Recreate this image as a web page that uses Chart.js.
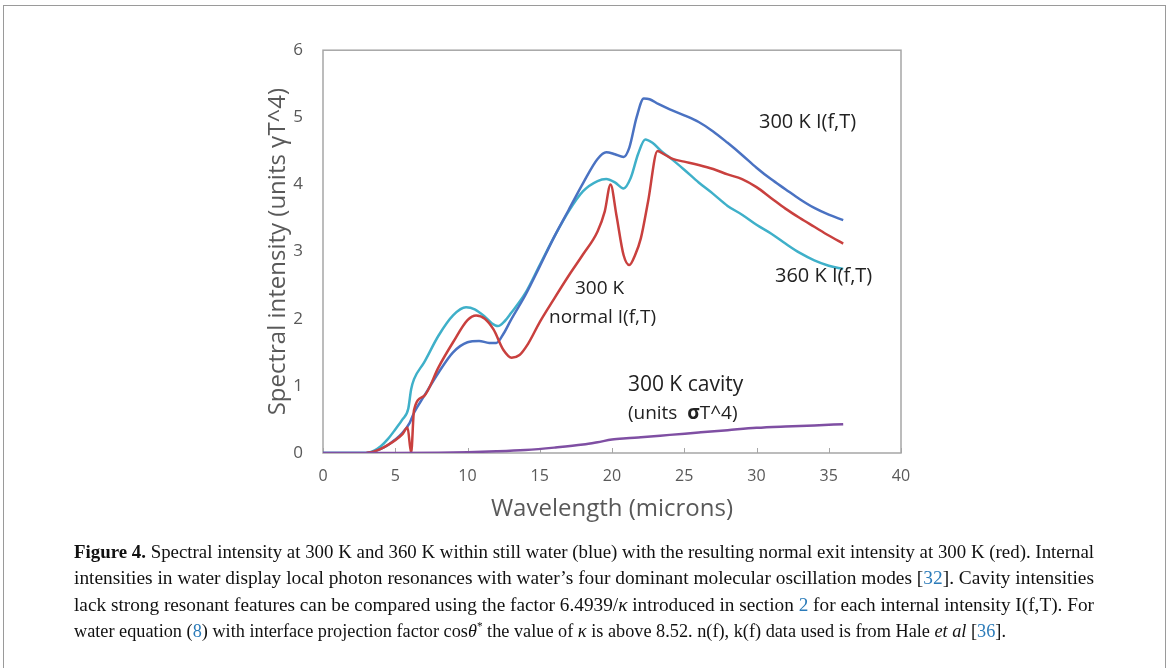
<!DOCTYPE html>
<html>
<head>
<meta charset="utf-8">
<script src="https://cdn.jsdelivr.net/npm/chart.js@4.4.0/dist/chart.umd.min.js"></script>
<style>
  html, body { margin: 0; padding: 0; background: #fff; }
  body { width: 1170px; height: 668px; position: relative; overflow: hidden; }
  #frame { position: absolute; left: 3px; top: 5px; width: 1163px; height: 700px; border: 1px solid #9a9a9a; box-sizing: border-box; }
  #plot { position: absolute; left: 200px; top: 20px; }
  #caption { position: absolute; left: 74px; top: 539px; font-family: 'Liberation Serif', serif; font-size: 19.5px; line-height: 26.3px; color: #111; }
  #caption .ln { display: block; white-space: nowrap; height: 26.3px; }
  #caption .t { display: inline-block; transform-origin: 0 0; }
  .ref { color: #2b7bb9; }
</style>
</head>
<body>
<div id="frame"></div>
<canvas id="plot" width="740" height="520"></canvas>
<div id="caption">
  <div class="ln"><span class="t" data-w="1020"><b>Figure 4.</b> Spectral intensity at 300 K and 360 K within still water (blue) with the resulting normal exit intensity at 300 K (red). Internal</span></div>
  <div class="ln"><span class="t" data-w="1020">intensities in water display local photon resonances with water’s four dominant molecular oscillation modes [<span class="ref">32</span>]. Cavity intensities</span></div>
  <div class="ln"><span class="t" data-w="1020">lack strong resonant features can be compared using the factor 6.4939/<i>κ</i> introduced in section <span class="ref">2</span> for each internal intensity I(f,T). For</span></div>
  <div class="ln"><span class="t" data-w="932">water equation (<span class="ref">8</span>) with interface projection factor cos<i>θ</i><sup style="font-size:12px;line-height:0">*</sup> the value of <i>κ</i> is above 8.52. n(f), k(f) data used is from Hale <i>et al</i> [<span class="ref">36</span>].</span></div>
</div>
<script>
// wavelength (microns) and spectral intensity for each curve
const wl300 = [0, 3, 3.5, 4, 4.5, 5, 5.5, 6, 6.3, 7, 8, 9, 10, 10.8, 11.5, 12, 12.5, 13, 14, 15, 16, 17, 18, 19, 19.6, 20.2, 20.8, 21.2, 21.7, 22.2, 22.6, 23.2, 24, 25, 26, 27, 28, 29, 30, 31, 32, 33, 34, 35, 36];
const int300 = [0, 0, 0.02, 0.06, 0.12, 0.2, 0.3, 0.45, 0.6, 0.85, 1.2, 1.5, 1.65, 1.67, 1.64, 1.64, 1.78, 1.98, 2.35, 2.78, 3.22, 3.62, 4.02, 4.38, 4.48, 4.45, 4.41, 4.55, 5.0, 5.28, 5.27, 5.2, 5.12, 5.03, 4.93, 4.79, 4.62, 4.44, 4.25, 4.08, 3.93, 3.78, 3.65, 3.55, 3.47];

const wl360 = [0, 3, 3.5, 4, 4.5, 5, 5.5, 5.9, 6.1, 6.3, 7, 8, 9, 9.9, 10.5, 11.2, 11.7, 12.1, 12.6, 13, 14, 15, 16, 17, 18, 19, 19.6, 20.2, 20.8, 21.3, 21.8, 22.3, 22.8, 23.5, 24, 25, 26, 27, 28, 29, 30, 31, 32, 33, 34, 35, 36];
const int360 = [0, 0, 0.03, 0.1, 0.21, 0.35, 0.5, 0.66, 0.95, 1.1, 1.35, 1.75, 2.05, 2.17, 2.14, 2.03, 1.93, 1.89, 1.97, 2.08, 2.38, 2.8, 3.22, 3.6, 3.9, 4.05, 4.08, 4.03, 3.94, 4.1, 4.45, 4.67, 4.62, 4.48, 4.4, 4.22, 4.03, 3.86, 3.68, 3.55, 3.4, 3.27, 3.12, 2.98, 2.87, 2.79, 2.74];

const wlNormal = [3, 3.5, 4, 4.5, 5, 5.5, 5.85, 6.1, 6.3, 7, 8, 9, 10, 10.6, 11.2, 11.8, 12.5, 13.05, 13.6, 14.2, 15, 16, 17, 18, 19, 19.5, 19.9, 20.3, 20.8, 21.2, 21.6, 22, 22.5, 23.15, 23.6, 24.2, 25, 26, 27, 28, 29, 30, 31, 32, 33, 34, 35, 36];
const intNormal = [0, 0.02, 0.06, 0.12, 0.19, 0.28, 0.38, 0, 0.64, 0.85, 1.28, 1.65, 1.98, 2.05, 2.0, 1.84, 1.53, 1.42, 1.46, 1.63, 1.95, 2.3, 2.64, 2.96, 3.3, 3.6, 4.0, 3.55, 2.95, 2.8, 2.95, 3.2, 3.75, 4.5, 4.45, 4.38, 4.34, 4.29, 4.23, 4.15, 4.08, 3.96, 3.8, 3.64, 3.5, 3.37, 3.24, 3.12];

const wlCavity = [0, 5, 8, 10, 12, 14, 16, 18, 19, 20, 21, 22, 24, 26, 28, 30, 32, 34, 36];
const intCavity = [0, 0, 0.005, 0.012, 0.025, 0.045, 0.08, 0.125, 0.16, 0.2, 0.22, 0.235, 0.27, 0.305, 0.34, 0.375, 0.395, 0.41, 0.43];

const xTicks = [0, 5, 10, 15, 20, 25, 30, 35, 40];
const yTicks = [0, 1, 2, 3, 4, 5, 6];

const gray = '#595959';
const font = "'Open Sans', sans-serif";

function pts(xs, ys) {
    return xs.map((x, i) => ({ x: x, y: ys[i] }));
}

function line(label, xs, ys, color) {
    return {
        label: label,
        data: pts(xs, ys),
        borderColor: color,
        borderWidth: 2.5,
        pointRadius: 0,
        fill: false,
        cubicInterpolationMode: 'monotone'
    };
}

// curve labels placed in data units
const notes = [
    { parts: [['300 K I(f,T)', '']], x: 30.17, y: 4.93, size: 20 },
    { parts: [['360 K I(f,T)', '']], x: 31.28, y: 2.63, size: 20 },
    { parts: [['300 K', '']], x: 17.44, y: 2.45, size: 19 },
    { parts: [['normal I(f,T)', '']], x: 15.64, y: 2.01, size: 19 },
    { parts: [['300 K cavity', '']], x: 21.1, y: 1.02, size: 21 },
    { parts: [['(units  ', ''], ['σ', 'bold '], ['T^4)', '']], x: 21.1, y: 0.58, size: 19 }
];

const framePlugin = {
    id: 'frame',
    beforeDatasetsDraw(chart) {
        const { ctx, chartArea: a, scales } = chart;
        ctx.save();
        ctx.strokeStyle = '#a6a6a6';
        ctx.lineWidth = 1.5;
        ctx.strokeRect(a.left, a.top, a.right - a.left, a.bottom - a.top);
        ctx.lineWidth = 1;
        ctx.beginPath();
        xTicks.forEach(v => {
            const px = Math.round(scales.x.getPixelForValue(v)) + 0.5;
            ctx.moveTo(px, a.bottom);
            ctx.lineTo(px, a.bottom - 5);
        });
        ctx.stroke();
        ctx.restore();
    },
    afterDraw(chart) {
        const { ctx, scales } = chart;
        ctx.save();
        ctx.fillStyle = '#222';
        ctx.textBaseline = 'middle';
        ctx.textAlign = 'left';
        notes.forEach(n => {
            let px = scales.x.getPixelForValue(n.x);
            const py = scales.y.getPixelForValue(n.y);
            n.parts.forEach(p => {
                ctx.font = p[1] + n.size + 'px ' + font;
                ctx.fillText(p[0], px, py);
                px += ctx.measureText(p[0]).width;
            });
        });
        ctx.restore();
    }
};

new Chart(document.getElementById('plot'), {
    type: 'line',
    data: {
        datasets: [
            line('300 K cavity', wlCavity, intCavity, '#7f4fa3'),
            line('300 K normal I(f,T)', wlNormal, intNormal, '#c9403e'),
            line('300 K I(f,T)', wl300, int300, '#4a72c2'),
            line('360 K I(f,T)', wl360, int360, '#3fb0c9')
        ]
    },
    options: {
        responsive: false,
        animation: false,
        devicePixelRatio: 1,
        layout: { padding: { left: 64, top: 22, right: 39, bottom: 0 } },
        plugins: { legend: { display: false }, tooltip: { enabled: false } },
        scales: {
            x: {
                type: 'linear',
                min: 0,
                max: 40,
                afterFit: s => { s.height = 87; },
                afterBuildTicks: s => { s.ticks = xTicks.map(v => ({ value: v })); },
                grid: { display: false, drawTicks: false },
                border: { display: false },
                ticks: { color: gray, padding: 14, font: { family: font, size: 16 } },
                title: { display: true, text: 'Wavelength (microns)', color: gray, padding: { top: 0, bottom: 16 }, font: { family: font, size: 24 } }
            },
            y: {
                min: 0,
                max: 6,
                afterFit: s => { s.width = 59; },
                afterBuildTicks: s => { s.ticks = yTicks.map(v => ({ value: v })); },
                grid: { display: false, drawTicks: false },
                border: { display: false },
                ticks: { color: gray, padding: 20, font: { family: font, size: 17 } },
                title: { display: true, text: 'Spectral intensity (units γT^4)', color: gray, padding: 0, font: { family: font, size: 24 } }
            }
        }
    },
    plugins: [framePlugin]
});

// squeeze caption lines to the justified width of the reference
document.querySelectorAll('#caption .t').forEach(el => {
    const w = el.getBoundingClientRect().width;
    el.style.transform = 'scaleX(' + (el.dataset.w / w) + ')';
});
</script>
</body>
</html>
